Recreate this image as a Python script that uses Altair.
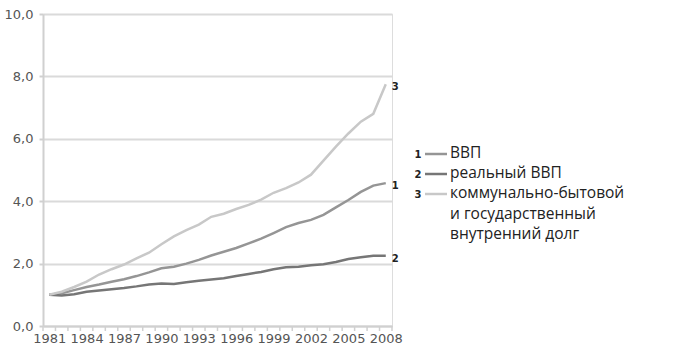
import altair as alt
import pandas as pd

years = list(range(1981, 2009))
gdp = [1.0, 1.05, 1.15, 1.25, 1.33, 1.42, 1.5, 1.6, 1.72, 1.85, 1.9, 2.0, 2.12, 2.26, 2.38, 2.5, 2.65, 2.8, 2.98, 3.17, 3.3, 3.4, 3.56, 3.8, 4.04, 4.3, 4.5, 4.58]
real_gdp = [1.0, 0.98, 1.02, 1.1, 1.14, 1.18, 1.22, 1.27, 1.33, 1.36, 1.35, 1.4, 1.45, 1.49, 1.53, 1.6, 1.67, 1.73, 1.82, 1.88, 1.9, 1.95, 1.98, 2.05, 2.15, 2.2, 2.25, 2.25]
debt = [1.0, 1.1, 1.25, 1.42, 1.65, 1.82, 1.97, 2.17, 2.35, 2.62, 2.87, 3.07, 3.25, 3.5, 3.6, 3.75, 3.88, 4.05, 4.27, 4.42, 4.6, 4.85, 5.3, 5.75, 6.17, 6.55, 6.8, 7.75]

series_keys = ["1", "2", "3"]
series_colors = ["#959595", "#767676", "#c8c8c8"]
legend_texts = [["ВВП"], ["реальный ВВП"], ["коммунально-бытовой", "и государственный", "внутренний долг"]]
label_years = [1981, 1984, 1987, 1990, 1993, 1996, 1999, 2002, 2005, 2008]
y_ticks = [0, 2, 4, 6, 8, 10]

rows = []
for k, vals in zip(series_keys, [gdp, real_gdp, debt]):
    for yr, v in zip(years, vals):
        rows.append({"year": yr, "value": v, "s": k})
df = pd.DataFrame(rows)
last = df[df.year == 2008]
tick_df = pd.DataFrame({"t": [y - 0.5 for y in years] + [2008.5]})

xscale = alt.Scale(domain=[1980.5, 2008.5], nice=False, zero=False)
yscale = alt.Scale(domain=[0, 10], nice=False)
cscale = alt.Scale(domain=series_keys, range=series_colors)

font = "DejaVu Sans"

xaxis = alt.Axis(values=label_years, tickSize=0, labelExpr="'' + datum.value", labelFont=font, labelFontSize=13,
                 labelColor="#555555", labelPadding=6, domainColor="#d0d0d0", domainWidth=2,
                 grid=False, labelFlush=False, labelOverlap=False, labelBound=False)
yaxis = alt.Axis(values=y_ticks, labelExpr="replace(format(datum.value, '.1f'), '.', ',')",
                 labelFont=font, labelFontSize=13, labelColor="#555555", tickSize=4,
                 tickColor="#d0d0d0", tickWidth=2, domainColor="#d0d0d0", domainWidth=2,
                 gridColor="#dadada", gridWidth=2, labelPadding=6)

lines = alt.Chart(df).mark_line(strokeWidth=2.5).encode(
    x=alt.X("year:Q", scale=xscale, title=None, axis=xaxis),
    y=alt.Y("value:Q", scale=yscale, title=None, axis=yaxis),
    color=alt.Color("s:N", scale=cscale, legend=None),
    detail="s:N",
)

xticks = alt.Chart(tick_df).mark_rule(color="#d0d0d0", strokeWidth=1.5).encode(
    x=alt.X("t:Q", scale=xscale, title=None, axis=xaxis), y=alt.value(312), y2=alt.value(317)
)

end_labels = alt.Chart(last).mark_text(align="left", baseline="middle", dx=6, dy=3, fontSize=10,
                                       fontWeight="bold", font=font, color="#222222").encode(
    x=alt.X("year:Q", scale=xscale, title=None, axis=xaxis),
    y=alt.Y("value:Q", scale=yscale, title=None, axis=yaxis), text="s:N"
)

layers = [lines, xticks, end_labels]
ys = [139, 159, 179]
for k, col, txt, yy in zip(series_keys, series_colors, legend_texts, ys):
    one = pd.DataFrame({"a": [0]})
    layers.append(alt.Chart(one).mark_rule(color=col, strokeWidth=2.5).encode(
        x=alt.value(382), x2=alt.value(404), y=alt.value(yy + 1), y2=alt.value(yy + 1)))
    layers.append(alt.Chart(one).mark_text(
        align="center", baseline="middle", fontSize=10, fontWeight="bold", font=font, color="#222222",
        text=k).encode(x=alt.value(375), y=alt.value(yy + 2)))
    layers.append(alt.Chart(one).mark_text(
        align="left", baseline="middle", fontSize=15.5, font="Open Sans", color="#222222",
        lineHeight=20.5, text=txt).encode(x=alt.value(407), y=alt.value(yy)))

chart = alt.layer(*layers).properties(
    width=349, height=312, autosize="none",
    padding={"left": 43, "top": 14, "right": 282, "bottom": 29}
).configure_view(stroke=None).configure(background="white")

chart.save("out.html", embed_options={"renderer": "svg", "actions": False})
